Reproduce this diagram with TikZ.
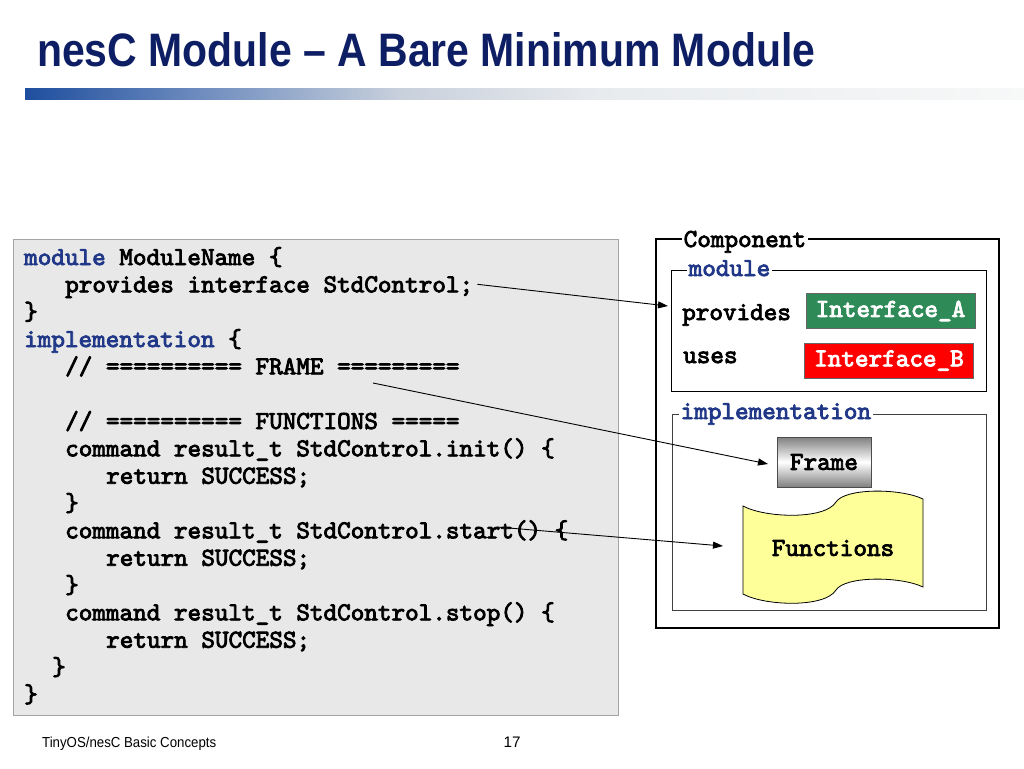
\documentclass[tikz,border=0pt]{standalone}
\usepackage{fontspec}
\setmainfont{Liberation Sans}
\newfontfamily\cmono{lmmono10-regular}[Extension=.otf, FakeBold=3.2]
\usetikzlibrary{arrows.meta}
\definecolor{titlecol}{RGB}{14,30,100}
\definecolor{kw}{RGB}{32,56,135}
\definecolor{codebg}{RGB}{232,232,232}
\definecolor{codeborder}{RGB}{165,165,165}
\definecolor{ifgreen}{RGB}{46,139,87}
\definecolor{ifred}{RGB}{255,0,0}
\definecolor{tapeyellow}{RGB}{255,255,153}
\definecolor{barA}{RGB}{30,78,158}
\definecolor{barB}{RGB}{110,140,190}
\definecolor{barC}{RGB}{200,208,220}
\definecolor{barD}{RGB}{232,235,238}
\definecolor{barE}{RGB}{247,248,248}
\pgfdeclarehorizontalshading{titlebar}{100bp}{color(0bp)=(barA); color(25bp)=(barA); color(33.75bp)=(barB); color(43.75bp)=(barC); color(53.75bp)=(barD); color(75bp)=(barE); color(100bp)=(barE)}
\newcommand{\cf}{\cmono\fontsize{25.9}{27}\selectfont}
\tikzset{
  codeline/.style={anchor=base west, inner sep=0pt, font=\cf},
  boxlabel/.style={anchor=base west, inner sep=1.5pt, fill=white, font=\cf},
  iface/.style={draw=black!60, minimum width=169pt, minimum height=35pt, inner sep=0pt, text=white, font=\cf},
  plain/.style={anchor=base west, inner sep=0pt, font=\cf},
  arr/.style={-{Triangle[length=10pt,width=7pt]}, line width=0.9pt, black}
}
\begin{document}
\begin{tikzpicture}[x=1pt,y=-1pt]
\useasboundingbox (0,0) rectangle (1024,768);
% title
\node[anchor=south west, inner sep=0pt, text=titlecol] (title) at (37,67)
  {\resizebox{778pt}{34pt}{\bfseries nesC Module -- A Bare Minimum Module}};
\shade[shading=titlebar] (25,88) rectangle (1024,99);
% code box
\draw[fill=codebg, draw=codeborder, line width=1pt] (13,239) rectangle (618,715);
\node[codeline] (l1) at (24,265) {\textcolor{kw}{module} ModuleName \{};
\node[codeline] (l2) at (65,292.3) {provides interface StdControl;};
\node[codeline] (l3) at (24,319.7) {\}};
\node[codeline] (l4) at (24,347) {\textcolor{kw}{implementation} \{};
\node[codeline] (l5) at (65,374.3) {// ========== FRAME =========};
\node[codeline] (l7) at (65,429) {// ========== FUNCTIONS =====};
\node[codeline] (l8) at (65,456.3) {command result\_t StdControl.init() \{};
\node[codeline] (l9) at (106,483.7) {return SUCCESS;};
\node[codeline] (l10) at (65,511) {\}};
\node[codeline] (l11) at (65,538.3) {command result\_t StdControl.start() \{};
\node[codeline] (l12) at (106,565.7) {return SUCCESS;};
\node[codeline] (l13) at (65,593) {\}};
\node[codeline] (l14) at (65,620.3) {command result\_t StdControl.stop() \{};
\node[codeline] (l15) at (106,647.7) {return SUCCESS;};
\node[codeline] (l16) at (52,675) {\}};
\node[codeline] (l17) at (24,702.3) {\}};
% component box
\draw[line width=2.5pt] (656,239) rectangle (999,628);
\node[boxlabel] (comp) at (682,247) {Component};
\draw[line width=1pt] (671,270) rectangle (986,391);
\node[boxlabel, text=kw] (modlbl) at (687,276) {module};
\node[plain] (prov) at (682,320) {provides};
\node[plain] (uses) at (683,363) {uses};
\node[iface, fill=ifgreen] (ifa) at (890.5,311) {Interface\_A};
\node[iface, fill=ifred] (ifb) at (889,360.5) {Interface\_B};
\draw[line width=1pt, draw=black!75] (672,414) rectangle (986,610);
\node[boxlabel, text=kw] (impl) at (679,419) {implementation};
\node[draw=black!70, line width=0.8pt, top color=black!50, bottom color=black!50, middle color=white, minimum width=94pt, minimum height=50pt, inner sep=0pt, font=\cf] (frame) at (824,462) {Frame};
\draw[fill=tapeyellow, draw=black, line width=0.8pt]
  (743,506) .. controls (765,518) and (825,520) .. (836,502)
  .. controls (845,488) and (900,488) .. (923,499)
  -- (923,587)
  .. controls (900,576) and (845,576) .. (836,590)
  .. controls (825,608) and (765,606) .. (743,594) -- cycle;
\node[plain, anchor=center] (func) at (833,548) {Functions};
% arrows
\coordinate (a1e) at (668,306);
\coordinate (a2s) at (373,383);
\coordinate (a2e) at (768,464);
\coordinate (a3s) at (497,527);
\coordinate (a3e) at (723,546);
\draw[arr] ([xshift=4pt,yshift=8pt]l2.base east) -- (a1e);
\draw[arr] (a2s) -- (a2e);
\draw[arr] (a3s) -- (a3e);
% footer
\node[anchor=base west, inner sep=0pt] (foot) at (42,747) {\resizebox{174pt}{10.5pt}{TinyOS/nesC Basic Concepts}};
\node[anchor=base, inner sep=0pt] (page) at (512,747) {\resizebox{!}{10.5pt}{17}};
\end{tikzpicture}
\end{document}
